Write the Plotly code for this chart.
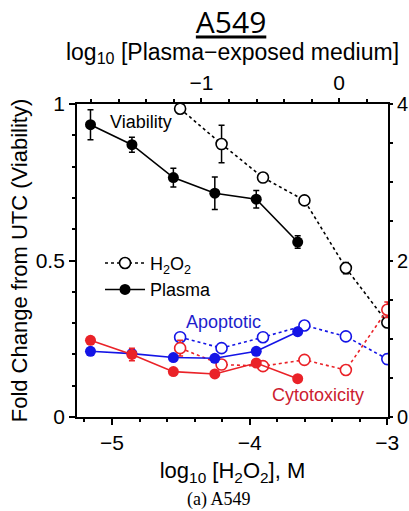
import plotly.graph_objects as go

# H2O2 concentrations (log10 M) and plasma-exposed medium dilutions (log10 fraction)
h2o2_log_conc = [-4.505, -4.204, -3.903, -3.602, -3.301, -3.0]
plasma_log_dil = [-1.806, -1.505, -1.204, -0.903, -0.602, -0.301]

# Viability (left axis, fold change from UTC)
viab_h2o2 = [0.985, 0.872, 0.765, 0.692, 0.476, 0.302]
viab_h2o2_err = [0.012, 0.060, 0.014, 0.010, 0.018, 0.012]
viab_plasma = [0.934, 0.870, 0.765, 0.715, 0.696, 0.559]
viab_plasma_err = [0.048, 0.024, 0.030, 0.052, 0.028, 0.020]

# Apoptotic / cytotoxicity (right axis)
apop_h2o2 = [1.02, 0.88, 1.02, 1.17, 1.03, 0.74]
apop_h2o2_err = [0.05, 0.04, 0.04, 0.05, 0.04, 0.06]
apop_plasma = [0.84, 0.81, 0.76, 0.75, 0.84, 1.09]
apop_plasma_err = [0.02, 0.02, 0.02, 0.02, 0.02, 0.03]
cyto_h2o2 = [0.88, 0.67, 0.65, 0.73, 0.60, 1.37]
cyto_h2o2_err = [0.10, 0.05, 0.04, 0.04, 0.04, 0.10]
cyto_plasma = [0.98, 0.80, 0.58, 0.55, 0.69, 0.49]
cyto_plasma_err = [0.03, 0.08, 0.02, 0.02, 0.03, 0.02]

# Offset between the H2O2 axis and the plasma dilution axis
axis_offset = 3.35
x_range = [-5.254, -2.995]

BLACK = "#000000"
BLUE = "#1414e6"
RED = "#ea2228"
FONT = "Liberation Sans, Arial, sans-serif"


def err(vals, color):
    return dict(type="data", array=vals, visible=True, color=color,
                thickness=1.5, width=3)


def h2o2_trace(y, e, color, yaxis, name=None, legend=False):
    return go.Scatter(
        x=h2o2_log_conc, y=y, xaxis="x", yaxis=yaxis, mode="lines+markers",
        line=dict(color=color, width=1.6, dash="dot"),
        marker=dict(symbol="circle", size=11, color="white",
                    line=dict(color=color, width=1.6)),
        error_y=err(e, color), name=name, showlegend=legend)


def plasma_trace(y, e, color, yaxis, name=None, legend=False):
    return go.Scatter(
        x=plasma_log_dil, y=y, xaxis="x2", yaxis=yaxis, mode="lines+markers",
        line=dict(color=color, width=1.6),
        marker=dict(symbol="circle", size=11, color=color),
        error_y=err(e, color), name=name, showlegend=legend)


fig = go.Figure()
fig.add_trace(h2o2_trace(apop_h2o2, apop_h2o2_err, BLUE, "y2"))
fig.add_trace(h2o2_trace(cyto_h2o2, cyto_h2o2_err, RED, "y2"))
fig.add_trace(plasma_trace(apop_plasma, apop_plasma_err, BLUE, "y2"))
fig.add_trace(plasma_trace(cyto_plasma, cyto_plasma_err, RED, "y2"))
fig.add_trace(h2o2_trace(viab_h2o2, viab_h2o2_err, BLACK, "y",
                         name="H<sub>2</sub>O<sub>2</sub>", legend=True))
fig.add_trace(plasma_trace(viab_plasma, viab_plasma_err, BLACK, "y",
                           name="Plasma", legend=True))

tickfont = dict(family=FONT, size=21, color=BLACK)
titlefont = dict(family=FONT, size=22, color=BLACK)
common = dict(showline=True, linecolor=BLACK, linewidth=1.8, ticks="outside",
              ticklen=6, tickwidth=1.5, tickcolor=BLACK, showgrid=False,
              zeroline=False, tickfont=tickfont, automargin=False)

fig.update_layout(
    width=409, height=511,
    margin=dict(l=77, r=21, t=104, b=94),
    paper_bgcolor="white", plot_bgcolor="white",
    font=dict(family=FONT, color=BLACK),
    title=dict(text="<u>A549</u>", x=0.565, xanchor="center", y=0.955,
               yanchor="middle",
               font=dict(family="Open Sans, sans-serif", size=30, color=BLACK)),
    xaxis=dict(range=x_range, tickmode="array", tickvals=[-5, -4, -3],
               ticktext=["\u22125", "\u22124", "\u22123"],
               minor=dict(tick0=-5, dtick=0.2, ticks="outside", ticklen=3,
                          tickwidth=1.5, tickcolor=BLACK, showgrid=False),
               title=dict(text="log<sub>10</sub> [H<sub>2</sub>O<sub>2</sub>], M",
                          font=titlefont, standoff=10),
               **common),
    xaxis2=dict(range=[x_range[0] + axis_offset, x_range[1] + axis_offset],
                overlaying="x", side="top", anchor="y",
                tickmode="array", tickvals=[-1, 0], ticktext=["\u22121", "0"],
                minor=dict(tick0=0, dtick=0.2, ticks="outside", ticklen=3,
                           tickwidth=1.5, tickcolor=BLACK, showgrid=False),
                title=dict(text="log<sub>10</sub> [Plasma\u2212exposed medium]",
                           font=dict(family=FONT, size=23, color=BLACK),
                           standoff=4),
                **{**common, "ticklen": 4}),
    yaxis=dict(range=[0, 1], tickmode="array", tickvals=[0, 0.5, 1],
               ticktext=["0", "0.5", "1"],
               minor=dict(tick0=0, dtick=0.1, ticks="outside", ticklen=3,
                          tickwidth=1.5, tickcolor=BLACK, showgrid=False),
               title=dict(text="Fold Change from UTC (Viability)",
                          font=titlefont, standoff=2),
               **common),
    yaxis2=dict(range=[0, 4], overlaying="y", side="right", anchor="x",
                tickmode="array", tickvals=[0, 2, 4], ticktext=["0", "2", "4"],
                minor=dict(tick0=0, dtick=0.5, ticks="outside", ticklen=3,
                           tickwidth=1.5, tickcolor=BLACK, showgrid=False),
                **{**common, "ticklen": 3,
                   "tickfont": dict(family=FONT, size=20, color=BLACK)}),
    legend=dict(x=0.074, y=0.55, xanchor="left", yanchor="top",
                bgcolor="rgba(0,0,0,0)", borderwidth=0,
                font=dict(family=FONT, size=18, color=BLACK),
                itemwidth=40, tracegroupgap=0),
)

fig.add_annotation(x=-4.79, y=0.943, xref="x", yref="y", text="Viability",
                   showarrow=False, font=dict(family=FONT, size=18, color=BLACK))
fig.add_annotation(x=-4.19, y=0.304, xref="x", yref="y", text="Apoptotic",
                   showarrow=False, font=dict(family=FONT, size=18, color="#1e1ecc"))
fig.add_annotation(x=-3.507, y=0.070, xref="x", yref="y", text="Cytotoxicity",
                   showarrow=False, font=dict(family=FONT, size=18, color="#cc2030"))
fig.add_annotation(x=0.455, y=-0.262, xref="paper", yref="paper", text="(a) A549",
                   showarrow=False, xanchor="center", yanchor="middle",
                   font=dict(family="Liberation Serif, Times New Roman, serif",
                             size=18, color=BLACK))

fig.write_html("out.html")
